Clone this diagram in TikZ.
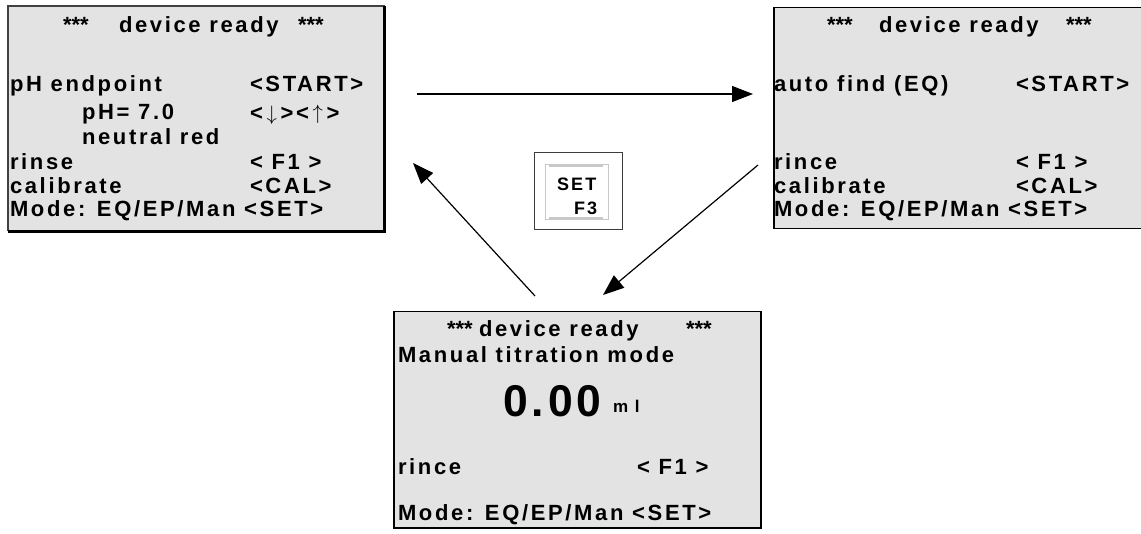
\documentclass[tikz,border=0pt]{standalone}
\usepackage{fontspec}
\usetikzlibrary{arrows.meta}
\newfontfamily\lcdfont{Liberation Sans}[LetterSpace=12]
\newfontfamily\starfont{Liberation Sans}
\newfontfamily\bigfont{Liberation Sans}[LetterSpace=9]
\newfontfamily\keyfont{Liberation Sans}[LetterSpace=12]
\definecolor{panelgray}{RGB}{227,227,227}
\definecolor{keyline}{RGB}{60,60,60}
\definecolor{keylight}{RGB}{200,200,200}
\tikzset{
  panel/.style={draw=black, line width=1.5pt, fill=panelgray, inner sep=0pt, anchor=north west},
  lcd/.style={font=\lcdfont\bfseries\fontsize{22}{26}\selectfont, anchor=base west, inner sep=0pt, outer sep=0pt},
  stars/.style={font=\starfont\bfseries\fontsize{22}{26}\selectfont, anchor=base west, inner sep=0pt, outer sep=0pt},
  big/.style={font=\bigfont\bfseries\fontsize{44.5}{50}\selectfont, anchor=base west, inner sep=0pt, outer sep=0pt},
  unit/.style={font=\lcdfont\bfseries\fontsize{17}{20}\selectfont, anchor=base west, inner sep=0pt, outer sep=0pt},
  keytext/.style={font=\keyfont\bfseries\fontsize{18}{20}\selectfont, anchor=base west, inner sep=0pt, outer sep=0pt},
  conn/.style={line width=1.2pt, -{Triangle[length=21pt,width=16pt]}},
}
\newcommand{\dnarrow}{\,{\fontsize{22}{24}\selectfont$\downarrow$}\,}
\newcommand{\uparr}{\,\raisebox{1.5pt}{\fontsize{22}{24}\selectfont$\uparrow$}\,}
\begin{document}
\begin{tikzpicture}[x=1pt,y=-1pt]
\useasboundingbox (0,0) rectangle (1141,534);

% display: pH endpoint mode
\node[panel, draw=none, minimum width=375pt, minimum height=224pt] (pL) at (8,6) {};
\draw[black!75, line width=1.2pt] (pL.south west) -- (pL.north west) -- (pL.north east);
\draw[black, line width=2.2pt] (pL.north east) -- (pL.south east) -- (pL.south west);
\node[stars] (pL0) at (63,33) {***};
\node[lcd] (pL1) at (119,33) {device ready};
\node[stars] (pL2) at (298,33) {***};
\node[lcd] (pL3) at (10,92) {pH endpoint};
\node[lcd] (pL4) at (250,92) {<START>};
\node[lcd] (pL5) at (82,120) {pH= 7.0};
\node[lcd] (pL6) at (250,121) {<\dnarrow><\uparr>};
\node[lcd] (pL7) at (82,145) {neutral red};
\node[lcd] (pL8) at (10,170) {rinse};
\node[lcd] (pL9) at (250,170) {< F1 >};
\node[lcd] (pL10) at (10,194) {calibrate};
\node[lcd] (pL11) at (250,194) {<CAL>};
\node[lcd] (pL12) at (10,217) {Mode: EQ/EP/Man <SET>};

% display: automatic equivalence point mode
\node[panel, minimum width=372pt, minimum height=221pt] (pR) at (773,7) {};
\node[stars] (pR0) at (827,33) {***};
\node[lcd] (pR1) at (879,33) {device ready};
\node[stars] (pR2) at (1066,33) {***};
\node[lcd] (pR3) at (774,92) {auto find (EQ)};
\node[lcd] (pR4) at (1016,92) {<START>};
\node[lcd] (pR5) at (774,170) {rince};
\node[lcd] (pR6) at (1016,170) {< F1 >};
\node[lcd] (pR7) at (774,194) {calibrate};
\node[lcd] (pR8) at (1016,194) {<CAL>};
\node[lcd] (pR9) at (774,217) {Mode: EQ/EP/Man <SET>};

% display: manual titration mode
\node[panel, minimum width=367pt, minimum height=216pt] (pM) at (393,311) {};
\node[stars] (pM0) at (447,337) {***};
\node[lcd] (pM1) at (479,337) {device ready};
\node[stars] (pM2) at (686,337) {***};
\node[lcd] (pM3) at (398,363) {Manual titration mode};
\node[big] (pM4) at (503,417) {0.00};
\node[unit] (pM5) at (613,413) {m l};
\node[lcd] (pM6) at (398,475) {rince};
\node[lcd] (pM7) at (637,475) {< F1 >};
\node[lcd] (pM8) at (398,520) {Mode: EQ/EP/Man <SET>};

% SET / F3 key
\node[draw=keyline, fill=white, line width=1pt, minimum width=88pt, minimum height=77pt, inner sep=0pt] (key) at (578,191.5) {};
\node[draw=keylight, line width=0.8pt, minimum width=63pt, minimum height=55pt, inner sep=0pt] (keyin) at (576.5,191.5) {};
\draw[keylight, line width=3pt] ([xshift=4pt,yshift=-1.5pt]keyin.north west) -- ([xshift=-5pt,yshift=-1.5pt]keyin.north east);
\draw[keylight, line width=3pt] ([xshift=4pt,yshift=1pt]keyin.south west) -- ([xshift=-5pt,yshift=1pt]keyin.south east);
\node[keytext] (k1) at (557,191) {SET};
\node[keytext] (k2) at (574,215) {F3};

% transitions between the modes
\coordinate (t1s) at (417,94);
\coordinate (t1e) at (753,94);
\coordinate (t2s) at (758,165);
\coordinate (t2e) at (603,295);
\coordinate (t3s) at (535,296);
\coordinate (t3e) at (413,163);
\draw[conn] (t1s) -- (t1e);
\draw[conn] (t2s) -- (t2e);
\draw[conn] (t3s) -- (t3e);
\end{tikzpicture}
\end{document}
